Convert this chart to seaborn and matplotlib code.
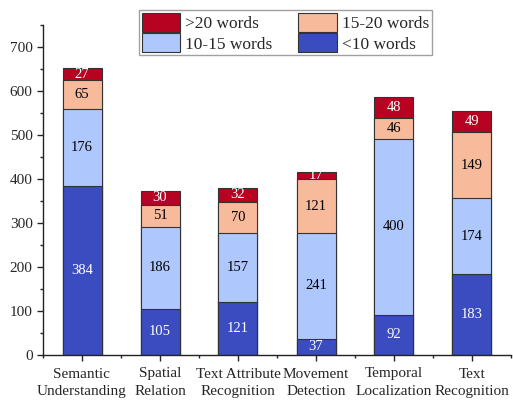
import matplotlib
matplotlib.use("Agg")
import matplotlib.pyplot as plt
import seaborn as sns
import numpy as np
import pandas as pd
from matplotlib.ticker import MultipleLocator
from matplotlib.patches import Patch

categories = ["Semantic\nUnderstanding", "Spatial\nRelation", "Text Attribute\nRecognition",
              "Movement\nDetection", "Temporal\nLocalization", "Text\nRecognition"]
lt10 = [384, 105, 121, 37, 92, 183]
w10_15 = [176, 186, 157, 241, 400, 174]
w15_20 = [65, 51, 70, 121, 46, 149]
gt20 = [27, 30, 32, 17, 48, 49]

series_names = ["<10 words", "10-15 words", "15-20 words", ">20 words"]
series_vals = [lt10, w10_15, w15_20, gt20]
colors = ["#3A4CC0", "#AEC7FD", "#F7BA9B", "#B70222"]
text_colors = ["white", "black", "black", "white"]

sns.set_style("ticks")
plt.rcParams['font.family'] = ['Liberation Serif', 'DejaVu Serif']

fig = plt.figure(figsize=(5.13, 4.01), dpi=100)
ax = fig.add_axes([43/513, 1-355/401, 468/513, 330/401])

cum = np.cumsum(np.array(series_vals), axis=0)
# draw from top layer down so lower layers overplot
for i in range(3, -1, -1):
    df = pd.DataFrame({"cat": categories, "val": cum[i]})
    sns.barplot(data=df, x="cat", y="val", color=colors[i], width=0.5,
                edgecolor="#333333", linewidth=0.8, saturation=1, ax=ax, zorder=2)

for i in range(4):
    for j in range(len(categories)):
        v = series_vals[i][j]
        mid = cum[i][j] - v / 2
        ax.text(j, mid, str(v), ha="center", va="center", fontsize=10.5,
                color=text_colors[i], zorder=3)

ax.set_xlim(-0.5, 5.5)
ax.set_ylim(0, 750)
ax.yaxis.set_major_locator(MultipleLocator(100))
ax.yaxis.set_minor_locator(MultipleLocator(50))
ax.set_xticks(range(len(categories)))
ax.set_xticks(np.arange(-0.5, 5.6, 1), minor=True)
ax.set_xticklabels(categories, fontsize=11, linespacing=1.45)
ax.tick_params(axis="y", labelsize=11)
ax.tick_params(which="major", direction="out", length=4, width=1)
ax.tick_params(which="minor", direction="out", length=2.5, width=1)
ax.tick_params(axis="x", which="major", pad=5)
ax.set_xlabel("")
ax.set_ylabel("")
sns.despine(ax=ax, top=True, right=True)
for s in ["left", "bottom"]:
    ax.spines[s].set_linewidth(1)
    ax.spines[s].set_color("#222222")

order = [3, 1, 2, 0]
handles = [Patch(facecolor=colors[k], edgecolor="#333333", linewidth=0.8, label=series_names[k]) for k in order]
leg = ax.legend(handles=handles, ncol=2, loc="upper center", bbox_to_anchor=(0.518, 1.045),
                fontsize=12.5, frameon=True, fancybox=False, edgecolor="#888888",
                handlelength=2.2, handleheight=1.3, handletextpad=0.3,
                columnspacing=1.5, labelspacing=0.08, borderpad=0.15, borderaxespad=0)
leg.get_frame().set_linewidth(1)

fig.savefig("out.png", dpi=100)
